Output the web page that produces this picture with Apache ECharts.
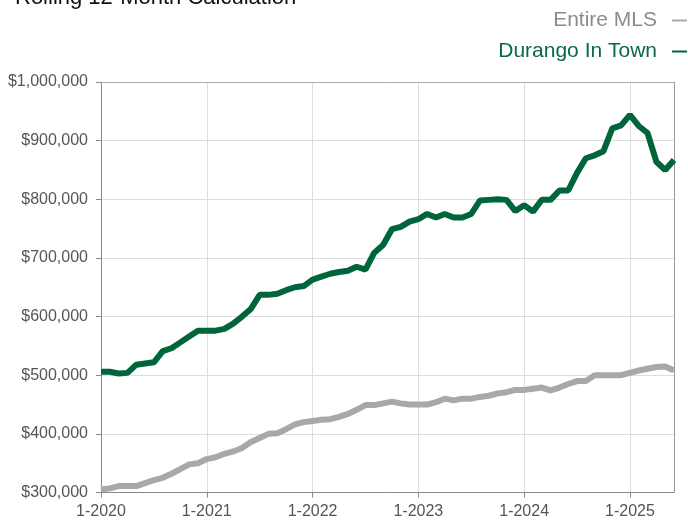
<!DOCTYPE html>
<html><head><meta charset="utf-8">
<script src="https://cdn.jsdelivr.net/npm/echarts@6/dist/echarts.min.js"></script>
<style>html,body{margin:0;padding:0;background:#fff}#c{width:688px;height:520px}</style>
</head><body><div id="c"></div>
<script>
var months = [];
for (var y = 2020; y <= 2025; y++) { for (var m = 1; m <= 12; m++) { if (y === 2025 && m > 6) break; months.push(m + '-' + y); } }
var durango = [506000,506000,503000,504000,518000,520000,522000,541000,546000,556000,566000,576000,
576000,576000,579000,588000,600000,613000,637000,637000,639000,645000,650000,652000,
663000,668000,673000,676000,678000,685000,680000,709000,722000,749000,753000,762000,
766000,775000,769000,775000,769000,769000,775000,798000,799000,800000,799000,780000,
790000,779000,799000,799000,815000,815000,845000,870000,875000,882000,921000,926000,
944000,925000,913000,864000,850000,867000];
var entire = [305000,307000,311000,311000,311000,316000,321000,325000,332000,340000,348000,350000,
357000,360000,366000,370000,376000,386000,393000,400000,401000,408000,416000,420000,
422000,424000,425000,429000,434000,441000,449000,449000,452000,455000,452000,450000,
450000,450000,454000,460000,457000,460000,460000,463000,465000,469000,471000,475000,
475000,477000,479000,474000,479000,485000,490000,490000,500000,500000,500000,500000,
504000,508000,511000,514000,515000,508000];
var seriesNames = ['Entire MLS', 'Durango In Town'];
var titleText = 'Rolling 12-Month Calculation';
var GREEN = '#00653a', GRAY = '#a8a8a8';
var chart = echarts.init(document.getElementById('c'));
var font = 'Liberation Sans, Arial, sans-serif';
chart.setOption({
  animation: false,
  textStyle: { fontFamily: font },
  title: { text: titleText, left: 10, top: -18, textStyle: { fontSize: 22, fontWeight: 'normal', color: '#111', fontFamily: font } },
  legend: {
    orient: 'vertical', right: -4, top: 5, align: 'right', icon: 'rect', itemWidth: 15, itemHeight: 2, itemGap: 10,
    data: [
      { name: seriesNames[0], textStyle: { color: '#8c8c8c' } },
      { name: seriesNames[1], textStyle: { color: '#0a6a42' } }
    ],
    textStyle: { fontSize: 21, fontFamily: font, padding: [0, 10, 0, 0] }
  },
  grid: { left: 101, right: 14, top: 82, bottom: 27.5 },
  xAxis: [{
    type: 'category', data: months, boundaryGap: false,
    axisLine: { lineStyle: { color: '#888', width: 1 } },
    axisTick: { interval: 11, length: 5, lineStyle: { color: '#888' } },
    axisLabel: { interval: 11, color: '#555', fontSize: 16, margin: 11, fontFamily: font },
    splitLine: { show: true, interval: 11, lineStyle: { color: '#dedede' } }
  }, {
    type: 'category', data: months, boundaryGap: false, position: 'top',
    axisLine: { show: true, lineStyle: { color: '#aaa' } },
    axisTick: { show: false }, axisLabel: { show: false }, splitLine: { show: false }
  }],
  yAxis: [{
    type: 'value', min: 300000, max: 1000000, interval: 100000,
    axisLine: { show: true, lineStyle: { color: '#888' } },
    axisTick: { show: true, length: 5, lineStyle: { color: '#888' } },
    axisLabel: { color: '#555', fontSize: 16, margin: 13, fontFamily: font,
      formatter: function (v) { return '$' + v.toLocaleString('en-US'); } },
    splitLine: { lineStyle: { color: '#dedede' } }
  }, {
    type: 'value', position: 'right', min: 300000, max: 1000000, interval: 100000,
    axisLine: { show: true, lineStyle: { color: '#999' } },
    axisTick: { show: false }, axisLabel: { show: false }, splitLine: { show: false }
  }],
  series: [
    { name: seriesNames[0], type: 'line', data: entire, symbol: 'none', lineStyle: { color: GRAY, width: 6 }, itemStyle: { color: GRAY } },
    { name: seriesNames[1], type: 'line', data: durango, symbol: 'none', lineStyle: { color: GREEN, width: 6 }, itemStyle: { color: GREEN } }
  ]
});
</script></body></html>
